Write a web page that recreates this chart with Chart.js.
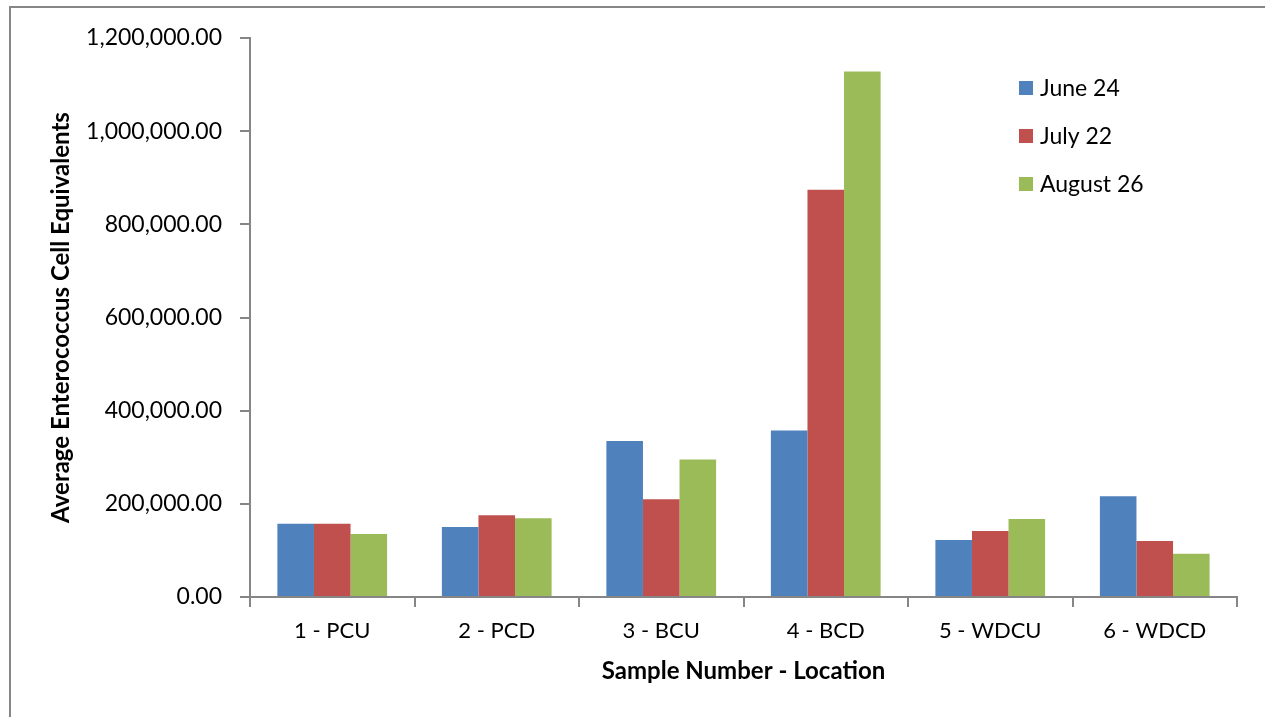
<!DOCTYPE html>
<html>
<head>
<meta charset="utf-8">
<script src="https://cdn.jsdelivr.net/npm/chart.js@4"></script>
<style>
  html, body { margin: 0; padding: 0; background: #ffffff; }
  #wrap { width: 1265px; height: 717px; position: relative; }
</style>
</head>
<body>
<div id="wrap"><canvas id="chart" width="1265" height="717"></canvas></div>
<script>
// Sample sites along the creek
const categories = ['1 - PCU', '2 - PCD', '3 - BCU', '4 - BCD', '5 - WDCU', '6 - WDCD'];

// Average Enterococcus cell equivalents per sampling date
const june24 = [157000, 150500, 335000, 357500, 122500, 216500];
const july22 = [157000, 175500, 210000, 874000, 141500, 120000];
const august26 = [135500, 169000, 295000, 1128000, 167500, 93000];

const seriesNames = ['June 24', 'July 22', 'August 26'];
const seriesColors = ['#4F81BD', '#C0504D', '#9BBB59'];

const yTicks = [0, 200000, 400000, 600000, 800000, 1000000, 1200000];

const axisColor = '#868686';
const fontFamily = "Lato, 'Open Sans', 'DejaVu Sans', sans-serif";

// White page with the outer frame of the chart object
const framePlugin = {
  id: 'frame',
  beforeDraw(chart) {
    const ctx = chart.ctx;
    ctx.save();
    ctx.fillStyle = '#ffffff';
    ctx.fillRect(0, 0, chart.width, chart.height);
    ctx.strokeStyle = '#878787';
    ctx.lineWidth = 2;
    ctx.strokeRect(10, 7, chart.width + 20, chart.height + 20);
    ctx.restore();
  }
};

// Vertical legend in the upper right of the plot
const sideLegend = {
  id: 'sideLegend',
  afterDraw(chart) {
    const ctx = chart.ctx;
    ctx.save();
    ctx.font = '23px ' + fontFamily;
    ctx.textBaseline = 'middle';
    ctx.textAlign = 'left';
    chart.data.datasets.forEach((ds, i) => {
      const cy = 88 + i * 48;
      ctx.fillStyle = ds.backgroundColor;
      ctx.fillRect(1019, cy - 7, 14, 14);
      ctx.fillStyle = '#000000';
      ctx.fillText(ds.label, 1040, cy + 1);
    });
    ctx.restore();
  }
};

const datasets = [june24, july22, august26].map((values, i) => ({
  label: seriesNames[i],
  data: values,
  backgroundColor: seriesColors[i],
  borderWidth: 0,
  categoryPercentage: 0.667,
  barPercentage: 1.0
}));

new Chart(document.getElementById('chart'), {
  type: 'bar',
  data: { labels: categories, datasets },
  plugins: [framePlugin, sideLegend],
  options: {
    responsive: false,
    animation: false,
    devicePixelRatio: 1,
    layout: { padding: { left: 0, top: 38, right: 28, bottom: 0 } },
    plugins: {
      legend: { display: false },
      tooltip: { enabled: false }
    },
    scales: {
      x: {
        afterFit(scale) { scale.height = 120; },
        grid: {
          drawOnChartArea: false,
          drawTicks: true,
          tickLength: 10,
          color: axisColor,
          lineWidth: 2,
          offset: true
        },
        border: { display: true, color: axisColor, width: 2 },
        ticks: {
          color: '#000000',
          font: { family: fontFamily, size: 22 },
          padding: 11,
          maxRotation: 0
        },
        title: {
          display: true,
          text: 'Sample Number - Location',
          color: '#000000',
          font: { family: fontFamily, size: 24, weight: 'bold', lineHeight: 1.2 },
          padding: { top: 0, bottom: 31 }
        }
      },
      y: {
        min: 0,
        max: 1200000,
        afterFit(scale) { scale.width = 250; },
        afterBuildTicks(scale) { scale.ticks = yTicks.map(v => ({ value: v })); },
        grid: {
          drawOnChartArea: false,
          drawTicks: true,
          tickLength: 10,
          color: axisColor,
          lineWidth: 2
        },
        border: { display: true, color: axisColor, width: 2 },
        ticks: {
          color: '#000000',
          font: { family: fontFamily, size: 23 },
          padding: 18,
          callback: v => Number(v).toLocaleString('en-US', { minimumFractionDigits: 2, maximumFractionDigits: 2 })
        },
        title: {
          display: true,
          text: 'Average Enterococcus Cell Equivalents',
          color: '#000000',
          font: { family: fontFamily, size: 24, weight: 'bold', lineHeight: 1.2 },
          padding: { top: 47, bottom: 0 }
        }
      }
    }
  }
});
</script>
</body>
</html>
